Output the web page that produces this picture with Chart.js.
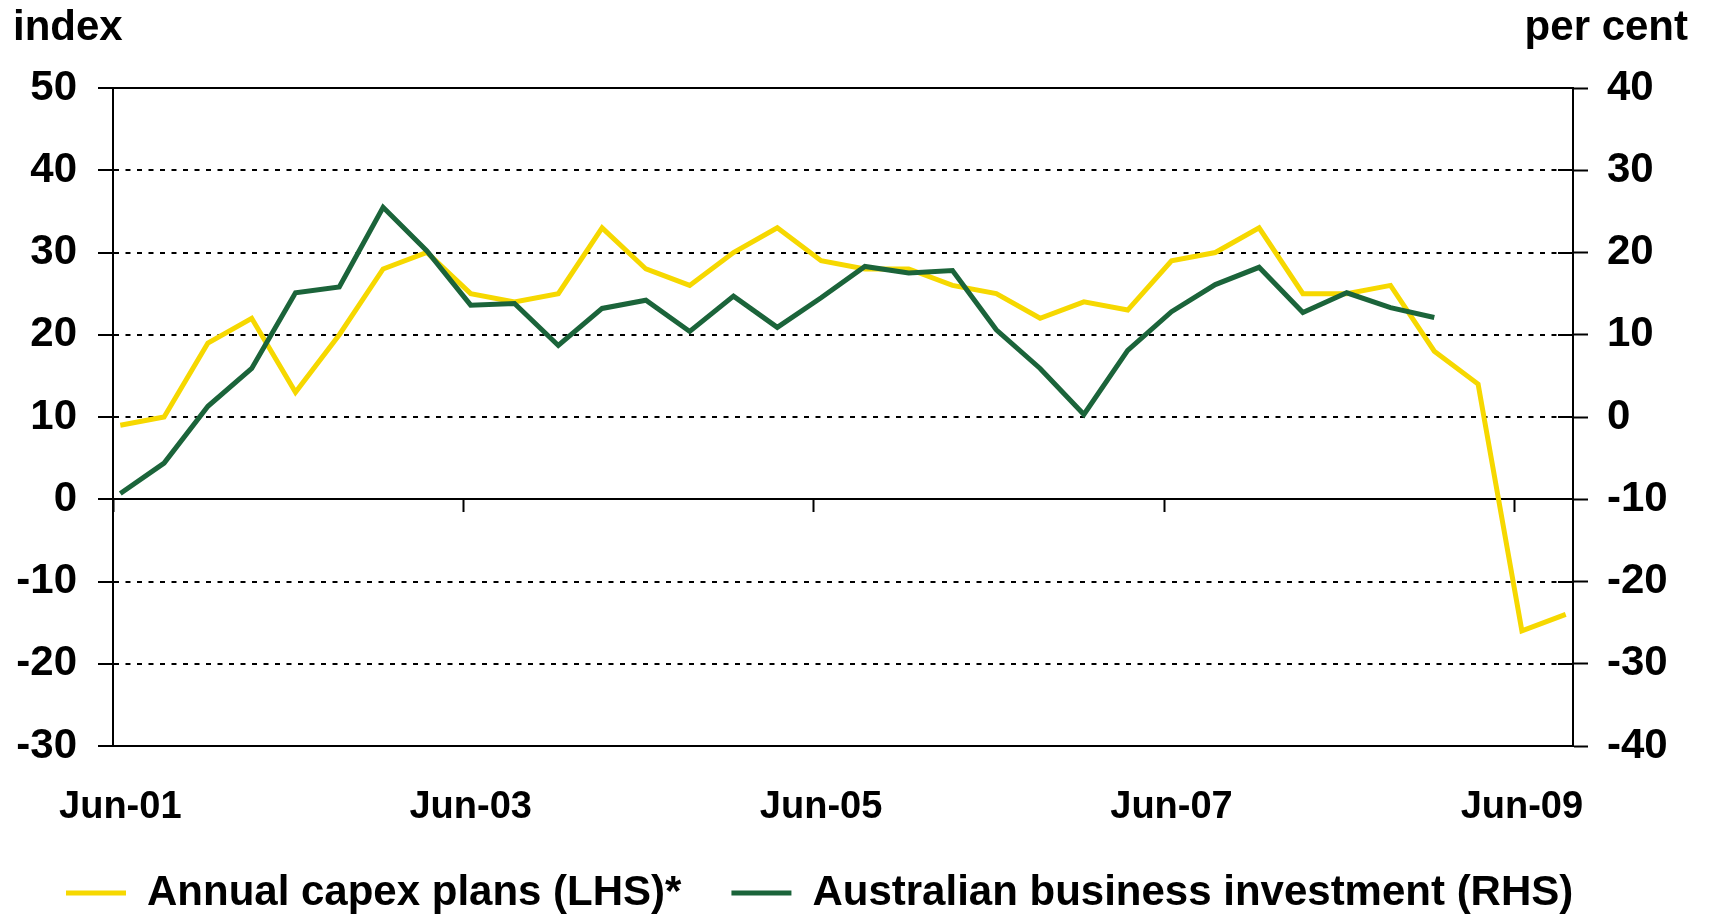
<!DOCTYPE html>
<html>
<head>
<meta charset="utf-8">
<script src="https://cdn.jsdelivr.net/npm/chart.js@4.4.1/dist/chart.umd.min.js"></script>
<style>
  html, body { margin: 0; padding: 0; background: #fff; }
</style>
</head>
<body>
<canvas id="capex" width="1710" height="919"></canvas>
<script>
// quarterly observations
const quarters = ['Jun-01', 'Sep-01', 'Dec-01', 'Mar-02', 'Jun-02', 'Sep-02', 'Dec-02', 'Mar-03',
  'Jun-03', 'Sep-03', 'Dec-03', 'Mar-04', 'Jun-04', 'Sep-04', 'Dec-04', 'Mar-05',
  'Jun-05', 'Sep-05', 'Dec-05', 'Mar-06', 'Jun-06', 'Sep-06', 'Dec-06', 'Mar-07',
  'Jun-07', 'Sep-07', 'Dec-07', 'Mar-08', 'Jun-08', 'Sep-08', 'Dec-08', 'Mar-09',
  'Jun-09', 'Sep-09'];

// Annual capex plans (LHS, index)
const capexPlans = [9, 10, 19, 22, 13, 20, 28, 30, 25, 24, 25, 33, 28, 26, 30, 33,
  29, 28, 28, 26, 25, 22, 24, 23, 29, 30, 33, 25, 25, 26, 18, 14, -16, -14];

// Australian business investment (RHS, per cent)
const businessInvestment = [-9.3, -5.6, 1.3, 5.9, 15.1, 15.8, 25.5, 20.2, 13.6, 13.8, 8.7,
  13.2, 14.2, 10.4, 14.7, 10.9, 14.5, 18.3, 17.5, 17.8, 10.6, 5.9, 0.3, 8.1,
  12.8, 16.1, 18.2, 12.7, 15.1, 13.3, 12.1];

const tickLabels = ['Jun-01', 'Jun-03', 'Jun-05', 'Jun-07', 'Jun-09'];
const axisEnd = 'Oct-09';
const unitLeft = 'index';
const unitRight = 'per cent';

const MONTHS = ['Jan', 'Feb', 'Mar', 'Apr', 'May', 'Jun', 'Jul', 'Aug', 'Sep', 'Oct', 'Nov', 'Dec'];
// months counted from Jun-01
function monthsFrom(label) {
  const [m, yy] = label.split('-');
  return (Number(yy) - 1) * 12 + MONTHS.indexOf(m) - 5;
}
// observations sit in the middle of their month
const toPoints = (values) => values.map((v, i) => ({ x: monthsFrom(quarters[i]) + 0.5, y: v }));

const FONT = "'Liberation Sans', Arial, sans-serif";
const YELLOW = '#F6D800';
const GREEN = '#1B643A';

Chart.defaults.font.family = FONT;
Chart.defaults.font.weight = 'bold';
Chart.defaults.color = '#000';

// unit labels above the axes, plus the short inner ticks of the right axis
const axisUnits = {
  id: 'axisUnits',
  afterDraw(chart) {
    const { ctx, chartArea, scales } = chart;
    ctx.save();
    ctx.font = 'bold 42px ' + FONT;
    ctx.fillStyle = '#000';
    ctx.textBaseline = 'alphabetic';
    ctx.textAlign = 'left';
    ctx.fillText(unitLeft, scales.y.left - 3, 40);
    ctx.textAlign = 'right';
    ctx.fillText(unitRight, chartArea.right + 115, 40);
    ctx.strokeStyle = '#000';
    ctx.lineWidth = 2;
    scales.y1.ticks.forEach(t => {
      const py = Math.round(scales.y1.getPixelForValue(t.value));
      ctx.beginPath();
      ctx.moveTo(chartArea.right - 15, py);
      ctx.lineTo(chartArea.right, py);
      ctx.stroke();
    });
    ctx.restore();
  }
};

const ctx = document.getElementById('capex').getContext('2d');
new Chart(ctx, {
  type: 'line',
  data: {
    datasets: [
      {
        label: 'Annual capex plans (LHS)*',
        data: toPoints(capexPlans),
        borderColor: YELLOW,
        backgroundColor: YELLOW,
        borderWidth: 5,
        pointRadius: 0,
        tension: 0,
        xAxisID: 'x',
        yAxisID: 'y',
        order: 1
      },
      {
        label: 'Australian business investment (RHS)',
        data: toPoints(businessInvestment),
        borderColor: GREEN,
        backgroundColor: GREEN,
        borderWidth: 5,
        pointRadius: 0,
        tension: 0,
        xAxisID: 'x',
        yAxisID: 'y1',
        order: 0
      }
    ]
  },
  options: {
    responsive: false,
    animation: false,
    devicePixelRatio: 1,
    layout: { padding: { left: 16, right: 42, top: 88, bottom: 0 } },
    plugins: {
      tooltip: { enabled: false },
      legend: {
        position: 'bottom',
        align: 'start',
        maxHeight: 97,
        labels: {
          boxWidth: 60,
          boxHeight: 5,
          padding: 50,
          font: { size: 42, weight: 'bold' },
          color: '#000',
          sort: (a, b) => a.datasetIndex - b.datasetIndex,
          generateLabels: chart => Chart.defaults.plugins.legend.labels.generateLabels(chart)
            .map(item => ({ ...item, lineWidth: 0 }))
        }
      }
    },
    scales: {
      x: {
        type: 'linear',
        position: 'bottom',
        min: 0,
        max: monthsFrom(axisEnd),
        afterBuildTicks: s => { s.ticks = tickLabels.map(l => ({ value: monthsFrom(l) + 0.5 })); },
        afterFit: s => { s.height = 76; },
        ticks: {
          callback: (value, index) => tickLabels[index],
          font: { size: 38, weight: 'bold' },
          color: '#000',
          padding: 31,
          maxRotation: 0,
          autoSkip: false
        },
        grid: { display: false },
        border: { display: true, color: '#000', width: 2 }
      },
      xZero: {
        type: 'linear',
        position: { y: 0 },
        min: 0,
        max: monthsFrom(axisEnd),
        afterBuildTicks: s => { s.ticks = tickLabels.map(l => ({ value: monthsFrom(l) })); },
        ticks: { display: false },
        grid: {
          display: true,
          drawOnChartArea: false,
          drawTicks: true,
          tickLength: 12,
          tickWidth: 2,
          tickColor: '#000'
        },
        border: { display: true, color: '#000', width: 2 }
      },
      y: {
        type: 'linear',
        position: 'left',
        min: -30,
        max: 50,
        afterFit: s => { s.width = 97; },
        ticks: {
          stepSize: 10,
          font: { size: 42, weight: 'bold' },
          color: '#000',
          padding: 21
        },
        grid: {
          color: '#000',
          lineWidth: 2,
          drawTicks: true,
          tickLength: 15,
          tickWidth: 2,
          tickColor: '#000'
        },
        border: {
          display: true,
          color: '#000',
          width: 2,
          dash: c => (c.tick && [50, 0, -30].includes(c.tick.value)) ? [] : [5, 6.5]
        }
      },
      y1: {
        type: 'linear',
        position: 'right',
        min: -40,
        max: 40,
        afterFit: s => { s.width = 95; },
        ticks: {
          stepSize: 10,
          font: { size: 42, weight: 'bold' },
          color: '#000',
          padding: 19
        },
        grid: {
          drawOnChartArea: false,
          drawTicks: true,
          tickLength: 15,
          tickWidth: 2,
          tickColor: '#000'
        },
        border: { display: true, color: '#000', width: 2 }
      }
    }
  },
  plugins: [axisUnits]
});
</script>
</body>
</html>
